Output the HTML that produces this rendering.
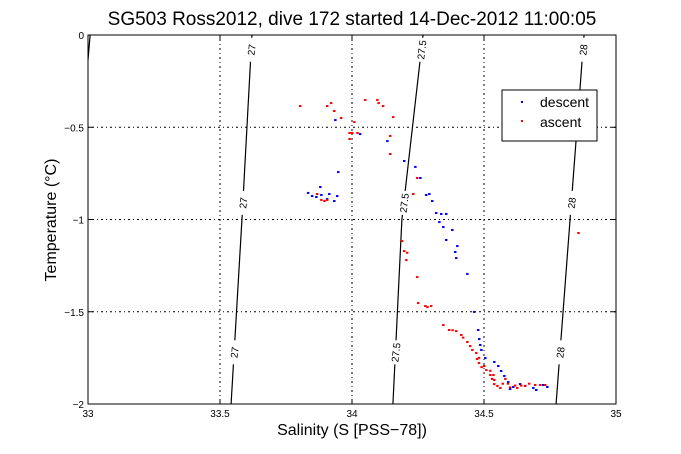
<!DOCTYPE html>
<html><head><meta charset="utf-8"><style>
body{margin:0;background:#fff;}
svg{display:block;font-family:"Liberation Sans",sans-serif;}
</style></head><body>
<svg id="chart" width="681" height="454" viewBox="0 0 681 454">
<rect x="0" y="0" width="681" height="454" fill="#fff"/>
<text x="352" y="25" font-size="19" text-anchor="middle">SG503 Ross2012, dive 172 started 14-Dec-2012 11:00:05</text>
<g id="grid"></g>
<g id="contours"></g>
<g id="pts"></g>
<rect x="88" y="35" width="528" height="369" fill="none" stroke="#000" stroke-width="1"/>
<g id="ticks"></g>
<text x="352" y="435" font-size="16" text-anchor="middle">Salinity (S [PSS−78])</text>
<text x="56" y="220" font-size="16" text-anchor="middle" transform="rotate(-90 56 220)">Temperature (°C)</text>
<g>
<rect x="502" y="90" width="95" height="51" fill="#fff" stroke="#000"/>
<rect x="521" y="101" width="2" height="2" fill="#00f"/>
<text x="540" y="107" font-size="14">descent</text>
<rect x="521" y="120" width="2" height="2" fill="#f00"/>
<text x="540" y="127" font-size="14">ascent</text>
</g>
</svg>
<script>
const xTicks=[33,33.5,34,34.5,35];
const yTicks=[0,-0.5,-1,-1.5,-2];
const xTickLabels=["33","33.5","34","34.5","35"];
const yTickLabels=["0","−0.5","−1","−1.5","−2"];
const descent=[[33.936,-0.461],[34.03,-0.537],[34.133,-0.575],[34.197,-0.683],[33.947,-0.743],[34.239,-0.715],[34.258,-0.775],[34.28,-0.867],[33.879,-0.824],[33.913,-0.862],[33.883,-0.867],[33.905,-0.889],[33.932,-0.9],[33.943,-0.873],[33.833,-0.856],[33.848,-0.873],[33.864,-0.878],[34.292,-0.862],[34.303,-0.9],[34.318,-0.965],[34.337,-0.97],[34.356,-0.97],[34.33,-1.014],[34.345,-1.041],[34.379,-1.057],[34.356,-1.111],[34.398,-1.144],[34.39,-1.176],[34.394,-1.209],[34.436,-1.295],[34.462,-1.501],[34.477,-1.599],[34.481,-1.648],[34.485,-1.68],[34.489,-1.707],[34.504,-1.751],[34.538,-1.772],[34.553,-1.794],[34.564,-1.821],[34.576,-1.848],[34.591,-1.881],[34.598,-1.919],[34.61,-1.908],[34.636,-1.892],[34.655,-1.902],[34.686,-1.913],[34.697,-1.924],[34.723,-1.897],[34.739,-1.908]];
const ascent=[[33.803,-0.385],[33.905,-0.385],[33.92,-0.369],[33.932,-0.412],[33.958,-0.45],[34.049,-0.352],[34.095,-0.352],[34.1,-0.369],[34.117,-0.385],[34.155,-0.445],[34.008,-0.472],[34.0,-0.531],[33.99,-0.531],[34.02,-0.531],[33.99,-0.564],[34.144,-0.547],[34.144,-0.645],[33.867,-0.862],[33.883,-0.894],[33.895,-0.9],[33.905,-0.894],[34.246,-0.775],[34.231,-0.862],[34.189,-1.117],[34.197,-1.171],[34.208,-1.18],[34.205,-1.22],[34.246,-1.312],[34.25,-1.453],[34.277,-1.469],[34.285,-1.475],[34.299,-1.469],[34.345,-1.572],[34.367,-1.599],[34.38,-1.6],[34.394,-1.605],[34.413,-1.626],[34.42,-1.64],[34.436,-1.664],[34.447,-1.686],[34.455,-1.707],[34.47,-1.724],[34.473,-1.756],[34.48,-1.778],[34.5,-1.794],[34.508,-1.816],[34.523,-1.843],[34.53,-1.864],[34.538,-1.892],[34.55,-1.902],[34.561,-1.913],[34.57,-1.89],[34.58,-1.864],[34.59,-1.89],[34.598,-1.91],[34.617,-1.9],[34.625,-1.913],[34.64,-1.9],[34.655,-1.902],[34.67,-1.89],[34.693,-1.897],[34.712,-1.897],[34.731,-1.897],[34.523,-1.82],[34.535,-1.843],[34.538,-1.87],[34.857,-1.073],[34.48,-1.75],[34.49,-1.8]];
const sigmaLevels=["27","27.5","28"];
const sigmaLines=[[[33.621,0],[33.583,-1.003],[33.542,-2]],[[34.269,0],[34.189,-1],[34.155,-2]],[[34.879,0],[34.826,-1],[34.773,-2]]];
const sigmaStub=[[33.008,0],[33.0,-0.135]];
const labelT=[-0.08,-0.91,-1.72];

const NS="http://www.w3.org/2000/svg";
const X=s=>88+(s-33)*264;
const Y=t=>35-t*184.5;
function mk(tag,attrs,parent){const e=document.createElementNS(NS,tag);for(const k in attrs)e.setAttribute(k,attrs[k]);parent.appendChild(e);return e;}
const grid=document.getElementById('grid'),ticks=document.getElementById('ticks'),cont=document.getElementById('contours'),pts=document.getElementById('pts');
xTicks.forEach((v,i)=>{
  if(i>0&&i<xTicks.length-1){const l=mk('line',{x1:X(v),x2:X(v),y1:35,y2:404,stroke:'#000','stroke-dasharray':'1 3 2 3'},grid);
  
  }
  const t=mk('line',{x1:X(v),x2:X(v),y1:404,y2:399,stroke:'#000'},ticks);
  
  
  const t2=mk('line',{x1:X(v),x2:X(v),y1:35,y2:40,stroke:'#000'},ticks);
  
  
  const tx=mk('text',{x:X(v),y:417,'font-size':10,'text-anchor':'middle'},ticks);tx.textContent=xTickLabels[i];
  
  
});
yTicks.forEach((v,i)=>{
  if(i>0&&i<yTicks.length-1){const l=mk('line',{x1:88,x2:616,y1:Y(v),y2:Y(v),stroke:'#000','stroke-dasharray':'1 3 2 3'},grid);
  
  }
  const t=mk('line',{x1:88,x2:93,y1:Y(v),y2:Y(v),stroke:'#000'},ticks);
  
  
  const t2=mk('line',{x1:611,x2:616,y1:Y(v),y2:Y(v),stroke:'#000'},ticks);
  
  
  const tx=mk('text',{x:84,y:Y(v)+4,'font-size':10,'text-anchor':'end'},ticks);tx.textContent=yTickLabels[i];
  
  
});
sigmaLines.forEach((line,i)=>{
  const p=mk('polyline',{points:line.map(q=>X(q[0])+','+Y(q[1])).join(' '),fill:'none',stroke:'#000','stroke-width':1.2},cont);
  
  
  labelT.forEach(t=>{
    let s;const a=line;
    for(let k=0;k<a.length-1;k++){if(t<=a[k][1]&&t>=a[k+1][1]){const f=(t-a[k][1])/(a[k+1][1]-a[k][1]);s=a[k][0]+f*(a[k+1][0]-a[k][0]);}}
    const cx=X(s),cy=Y(t);
    const bg=mk('rect',{x:cx-6,y:cy-12,width:12,height:24,fill:'#fff'},cont);
    
    
    const tx=mk('text',{x:cx,y:cy+4,'font-size':10,'text-anchor':'middle',transform:`rotate(-83 ${cx} ${cy})`},cont);
    tx.textContent=sigmaLevels[i];
    
    
  });
});
const st=mk('polyline',{points:sigmaStub.map(q=>X(q[0])+','+Y(q[1])).join(' '),fill:'none',stroke:'#000','stroke-width':1.2},cont);


function drawPts(arr,color,name){arr.forEach(p=>{
  const r=mk('rect',{x:X(p[0])-1,y:Y(p[1])-1,width:2.5,height:2,fill:color},pts);
  
  
});}
drawPts(descent,'#00f','descent-point');
drawPts(ascent,'#f00','ascent-point');
</script>
</body></html>
